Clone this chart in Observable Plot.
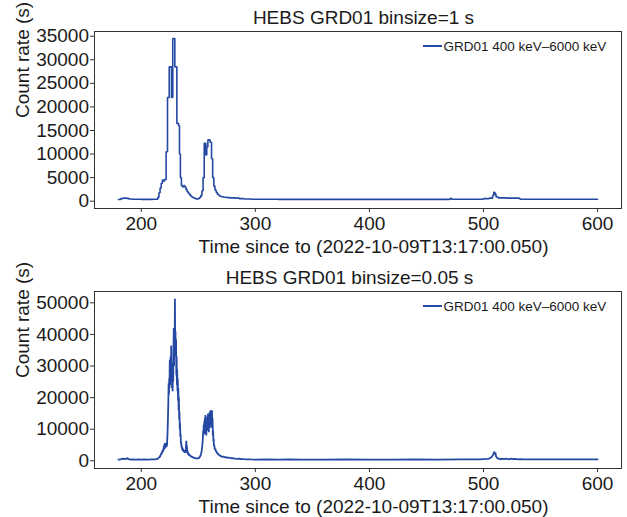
<!DOCTYPE html>
<html><head><meta charset="utf-8">
<script src="https://cdn.jsdelivr.net/npm/d3@7"></script>
<script src="https://cdn.jsdelivr.net/npm/@observablehq/plot@0.6"></script>
<style>
body{margin:0;background:#fff;}
#chart svg{display:block;}
</style></head><body><div id="chart"></div>
<script>
const titles = ["HEBS GRD01 binsize=1 s", "HEBS GRD01 binsize=0.05 s"];
const seriesName = "GRD01 400 keV–6000 keV";
const xLabel = "Time since to (2022-10-09T13:17:00.050)";
const yLabel = "Count rate (s)";
const xTicks = [200, 300, 400, 500, 600];
const yTicks1 = [0, 5000, 10000, 15000, 20000, 25000, 30000, 35000];
const yTicks2 = [0, 10000, 20000, 30000, 40000, 50000];

// Panel 1: binsize = 1 s (bin start times, count rates)
const time1 = [180,182,184,187,189,192,200,210,213.5,214.5,215.5,216.5,217.5,218.5,219.5,220.5,221.8,223.0,224.5,226.5,227.6,229.4,231.2,232.7,233.5,234.3,235.2,236.2,237.2,238.2,239.2,240.2,241.2,242.2,243.2,244.2,245.2,246.2,247.2,248.2,249.2,250.2,251.2,252.2,253.2,254.2,255.2,256.6,257.4,258.4,260.4,261.6,262.6,263.6,264.6,265.6,266.6,267.6,268.6,270,272,275,278,282,286,290,296,320,360,400,440,470,471,472,490,499,500,505,508,509,510,511,513,520,531,532,560,600];
const rate1 = [350,550,650,600,450,400,380,400,400,800,1800,2800,3800,4500,4300,4600,10500,22000,28500,22000,34500,28500,16500,16000,10000,5000,3300,3000,3300,3000,2500,2000,1700,1400,1100,900,750,650,550,500,500,600,800,1200,2200,5000,12300,9800,11500,13000,12500,9000,5000,3200,2400,1900,1500,1300,1100,950,850,750,700,650,550,450,400,380,380,380,380,400,600,400,400,420,550,650,1200,1900,1500,900,700,650,600,400,400,400];

// Panel 2: binsize = 0.05 s
const time2 = [180,181,182,183,184,185,186,187,188,188.5,189,190,192,195,198,200,203,206,209,212,213,
214.00,214.25,214.50,214.75,215.00,215.25,215.50,215.75,216.00,216.25,216.50,216.75,217.00,217.25,217.50,217.75,218.00,218.25,218.50,218.75,219.00,219.25,219.50,219.75,220.00,220.25,220.50,220.75,221.00,221.25,221.50,221.75,222.00,222.25,222.50,222.75,
223.00,223.25,223.50,223.75,224.00,224.25,224.50,224.75,225.00,225.25,225.50,225.75,226.00,226.25,226.50,226.75,227.00,227.25,227.50,227.75,228.00,228.25,228.50,228.75,229.00,229.25,229.50,229.75,230.00,230.25,230.50,230.75,231.00,231.25,231.50,231.75,232.00,232.25,232.50,232.75,233.00,233.25,233.50,233.75,234.00,234.25,234.50,234.75,
235.00,235.25,235.50,235.75,236.00,236.25,236.50,236.75,237.00,237.25,237.50,237.75,238.00,238.25,238.50,238.75,239.00,239.25,239.50,239.75,240.00,240.25,240.50,240.75,241.00,241.25,241.50,241.75,242.00,242.50,243.00,243.50,244.00,244.50,245.00,245.50,246.00,246.50,247.00,247.50,248.00,248.50,249.00,249.50,250.00,250.50,251.00,251.50,252.00,252.50,253.00,253.50,
254.00,254.25,254.50,254.75,255.00,255.25,255.50,255.75,256.00,256.25,256.50,256.75,257.00,257.25,257.50,257.75,258.00,258.25,258.50,258.75,259.00,259.25,259.50,259.75,260.00,260.25,260.50,260.75,261.00,261.25,261.50,261.75,262.00,262.25,262.50,262.75,263.00,263.25,263.50,263.75,264.00,264.50,265.00,265.50,266.00,266.50,267.00,267.50,268.00,268.50,269.00,269.50,270.00,271,272,273,274,275,276,277,278,279,280,282,284,286,288,290,293,296,300,310,320,330,340,360,380,400,420,440,460,480,497,
500,503,505,507,508.5,509.5,510,510.5,511,512,513,514,515,516,518,520,522,524,526,528,530,532,535,560,600];
const rate2 = [400,350,500,650,550,700,600,650,900,500,550,400,450,380,420,400,450,380,420,450,500,
600,450,700,650,900,800,1100,950,1300,1500,1200,1800,1600,2200,1900,2600,2300,3000,2600,3400,2900,3800,3300,4600,3600,5200,4100,5600,3900,4800,4200,5300,4400,5800,4700,6500,
8500,11500,15000,19000,24500,21000,26000,23000,32000,24000,28000,33000,25000,36500,27000,30000,23000,28000,22000,31000,25000,35000,42000,30000,38000,33000,51300,36000,41000,34000,38500,27000,33000,24000,29000,22000,26000,19000,23000,16000,20000,13000,15500,10000,12000,7500,8500,5500,
6000,4200,4800,3600,4300,3200,3900,3000,3600,2800,3400,2700,3100,2500,2900,3300,2600,5000,6300,3500,4800,2600,3200,2200,2700,1900,2400,1700,2100,1500,1800,1300,1500,1100,1300,950,1100,800,950,700,850,650,800,700,900,800,1100,1300,1700,2300,3200,4800,
7000,9500,8000,11500,9000,12500,8500,13500,10000,14500,9000,12000,8000,11000,13000,9500,14000,10000,15000,11000,13500,9000,14500,10500,15500,11500,13000,16000,12000,15500,10500,14000,16000,11000,13500,8000,9500,6000,7000,4500,5000,3500,3800,2800,3000,2300,2500,1900,2100,1600,1800,1400,1500,1200,1350,1100,1200,950,1050,900,950,800,850,700,600,650,550,500,450,420,400,420,380,420,400,380,420,400,380,420,400,420,450,
550,600,700,1100,1900,2900,2100,2600,1400,900,650,700,450,650,500,650,450,650,500,600,450,550,450,420,420];

const COLOR = "#2548a2";
const FONT = "'Liberation Sans', Arial, sans-serif";
const TEXT = "#1a1a1a";
const FS = 19;

function panel({times, rates, title, titleDx, yTicks, yDomain, height, marginTop, marginBottom, curve, strokeWidth}) {
  const data = times.map((t, i) => ({t, v: rates[i]}));
  const svg = Plot.plot({
    width: 627, height, marginLeft: 94, marginRight: 6, marginTop, marginBottom,
    style: {fontFamily: FONT, fontSize: FS + "px", color: TEXT, background: "#fff"},
    x: {domain: [159, 621]},
    y: {domain: yDomain},
    marks: [
      Plot.line(data, {x: "t", y: "v", curve, stroke: COLOR, strokeWidth, strokeLinejoin: "miter"}),
      Plot.frame({stroke: "#333", strokeWidth: 1}),
      Plot.axisX({ticks: xTicks, tickFormat: d3.format("d"), tickSize: 4, tickPadding: 4, fontSize: FS, label: null, stroke: "#333"}),
      Plot.axisY({ticks: yTicks, tickFormat: d3.format("d"), tickSize: 4, tickPadding: 1.5, fontSize: FS, label: null, stroke: "#333"}),
      Plot.text([title], {text: d => d, frameAnchor: "top", lineAnchor: "middle", dx: titleDx, dy: -13.5, fontSize: FS, fill: TEXT}),
      Plot.text([xLabel], {text: d => d, frameAnchor: "bottom", lineAnchor: "middle", dx: 15.5, dy: 38.7, fontSize: FS, fill: TEXT}),
      Plot.text([yLabel], {text: d => d, frameAnchor: "left", lineAnchor: "middle", dx: -72, dy: -2, rotate: -90, fontSize: FS, fill: TEXT}),
      Plot.text([seriesName], {text: d => d, frameAnchor: "top-left", lineAnchor: "middle", dx: 349, dy: 15, textAnchor: "start", fontSize: 13.5, fill: TEXT})
    ]
  });
  // legend swatch
  d3.select(svg).append("line")
    .attr("x1", 423).attr("x2", 442)
    .attr("y1", marginTop + 15).attr("y2", marginTop + 15)
    .attr("stroke", COLOR).attr("stroke-width", 2);
  return svg;
}

const chart = document.getElementById("chart");
chart.appendChild(panel({times: time1, rates: rate1, title: titles[0], titleDx: 5.5, yTicks: yTicks1,
  yDomain: [-1550, 36000], height: 258, marginTop: 31, marginBottom: 50, curve: "step-after", strokeWidth: 1.6}));
chart.appendChild(panel({times: time2, rates: rate2, title: titles[1], titleDx: -8.5, yTicks: yTicks2,
  yDomain: [-2440, 53580], height: 259, marginTop: 33, marginBottom: 49, curve: "linear", strokeWidth: 1.8}));
</script></body></html>
